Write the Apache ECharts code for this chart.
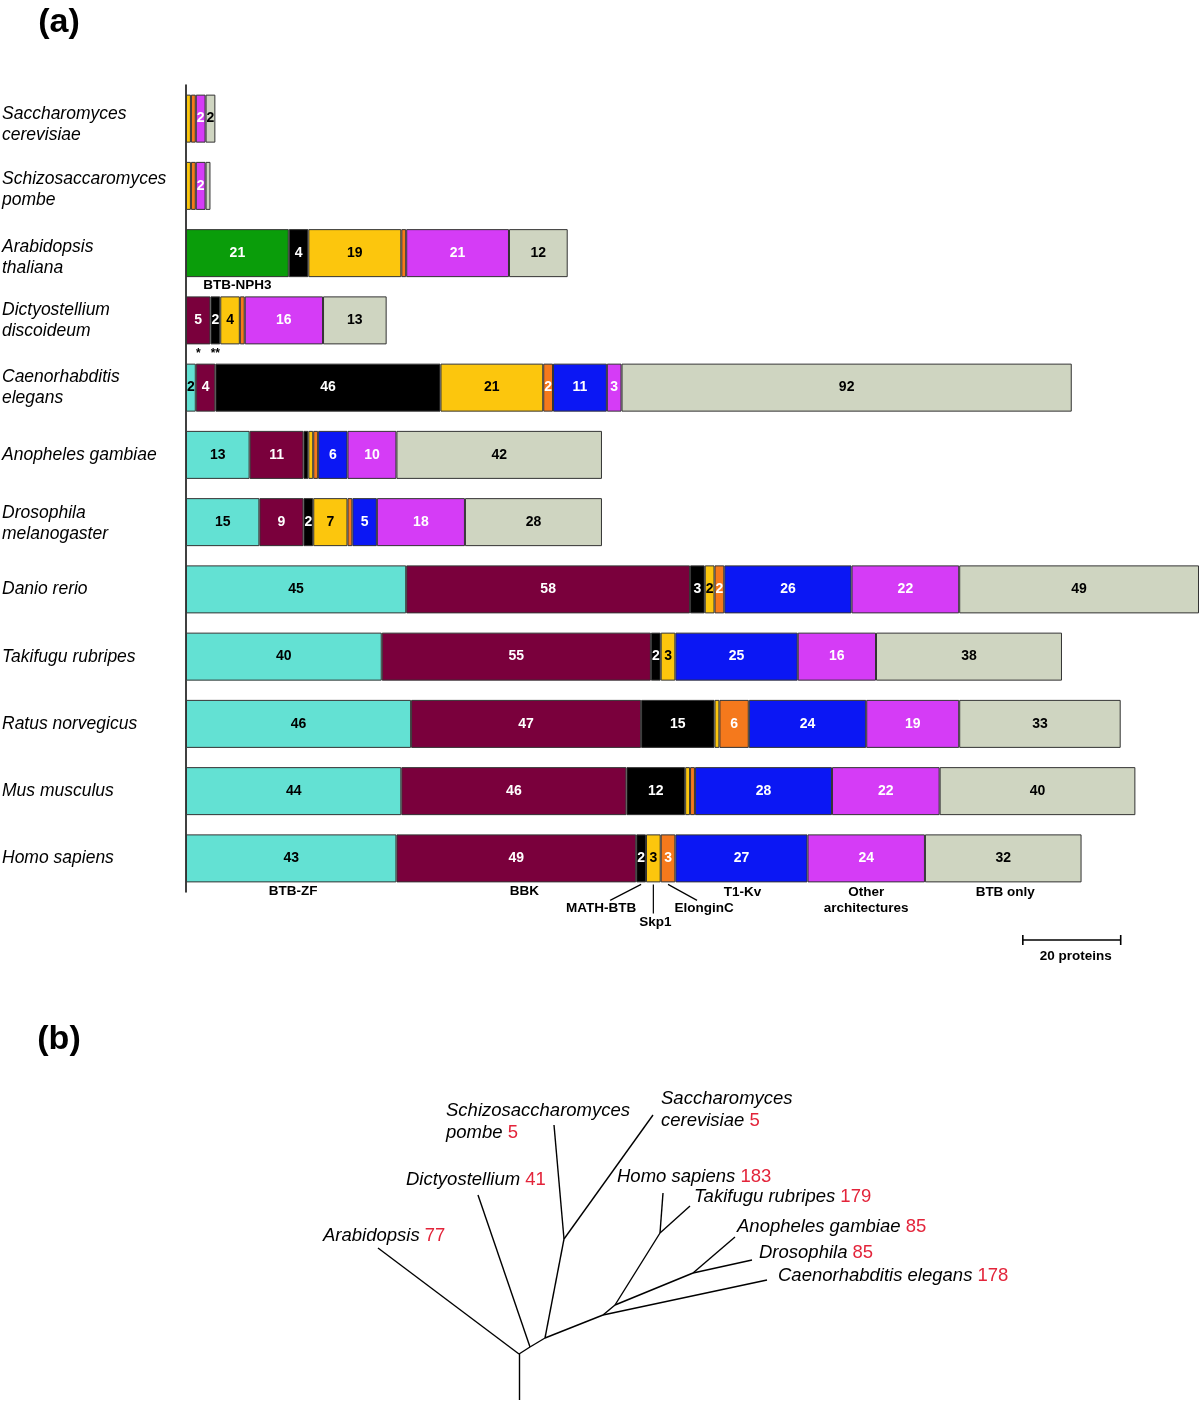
<!DOCTYPE html>
<html><head><meta charset="utf-8">
<script src="https://cdn.jsdelivr.net/npm/echarts@6/dist/echarts.min.js"></script>
<style>html,body{margin:0;padding:0;background:#fff}#c{width:1200px;height:1402px}</style>
</head><body><div id="c"></div>
<script>
// ---------- DATA: panel (a) ----------
const species = ['Saccharomyces\ncerevisiae','Schizosaccaromyces\npombe','Arabidopsis\nthaliana','Dictyostellium\ndiscoideum','Caenorhabditis\nelegans','Anopheles gambiae','Drosophila\nmelanogaster','Danio rerio','Takifugu rubripes','Ratus norvegicus','Mus musculus','Homo sapiens'];
const classNames = ['BTB-ZF','BBK','BTB-NPH3','MATH-BTB','Skp1','ElonginC','T1-Kv','Other architectures','BTB only'];
const btbZF     = [0, 0, 0, 0, 2, 13, 15, 45, 40, 46, 44, 43];
const bbk       = [0, 0, 0, 5, 4, 11,  9, 58, 55, 47, 46, 49];
const btbNPH3   = [0, 0,21, 0, 0,  0,  0,  0,  0,  0,  0,  0];
const mathBTB   = [0, 0, 4, 2,46,  1,  2,  3,  2, 15, 12,  2];
const skp1      = [1, 1,19, 4,21,  1,  7,  2,  3,  1,  1,  3];
const elonginC  = [1, 1, 1, 1, 2,  1,  1,  2,  0,  6,  1,  3];
const t1Kv      = [0, 0, 0, 0,11,  6,  5, 26, 25, 24, 28, 27];
const otherArch = [2, 2,21,16, 3, 10, 18, 22, 16, 19, 22, 24];
const btbOnly   = [2, 1,12,13,92, 42, 28, 49, 38, 33, 40, 32];
const scaleBarProteins = 20;

// ---------- DATA: panel (b) tree ----------
const treeNodeNames = ['base','root','A','B','Y','C','D','E','F','Arabidopsis','Dictyostellium','Spombe','Scerevisiae','Homo','Takifugu','Anopheles','Drosophila','Celegans'];
const treeNodeX = [0, 0, 11, 26, 45, 84, 96, 141, 174, -141, -41, 35, 134, 144, 171, 216, 233, 248];
const treeNodeY = [-46, 0, 7, 16, 115, 39, 49, 121, 81, 106, 159, 229, 239, 161, 148, 117, 94, 74];
const treeEdges = [['base','root'],['root','Arabidopsis'],['root','A'],['A','Dictyostellium'],['A','B'],['B','Y'],['Y','Spombe'],['Y','Scerevisiae'],['B','C'],['C','Celegans'],['C','D'],['D','E'],['E','Homo'],['E','Takifugu'],['D','F'],['F','Anopheles'],['F','Drosophila']];
const tipNodes  = ['Arabidopsis','Dictyostellium','Spombe','Scerevisiae','Homo','Takifugu','Anopheles','Drosophila','Celegans'];
const tipLabels = ['Arabidopsis','Dictyostellium','Schizosaccharomyces\npombe','Saccharomyces\ncerevisiae','Homo sapiens','Takifugu rubripes','Anopheles gambiae','Drosophila','Caenorhabditis elegans'];
const tipCounts = [77, 41, 5, 5, 183, 179, 85, 85, 178];

// ---------- STYLES ----------
const FONT = 'Liberation Sans, Arial, Helvetica, sans-serif';
const seriesValues = [btbZF, bbk, btbNPH3, mathBTB, skp1, elonginC, t1Kv, otherArch, btbOnly];
const colors = ['#63e1d3','#7a003c','#0a9d0a','#000000','#fcc60d','#f5791c','#0b17f4','#d53cf6','#cfd5c1'];
const labelColors = ['#000','#fff','#fff','#fff','#000','#fff','#fff','#fff','#000'];
const tipOffsets = [[-55,-12],[-72,-15],[-108,-3],[8,-5],[-46,-16],[4,-9],[2,-10],[7,-7],[11,-4]];
const catLabelShift = [6, 4, 4, 0, 0, 0, 1, 0, 0, 0, 0, 0];

const chart = echarts.init(document.getElementById('c'), null, {renderer:'canvas'});

const barSeries = seriesValues.map((vals, si) => ({
  type: 'bar', name: classNames[si], stack: 'total',
  xAxisIndex: 0, yAxisIndex: 0, barWidth: 48,
  data: vals.map(v => v === 0 ? '-' : v),
  itemStyle: {color: colors[si], borderColor: '#333', borderWidth: 1},
  label: {show: true, position: 'inside', color: labelColors[si], fontWeight: 'bold', fontSize: 14, fontFamily: FONT,
    formatter: p => (p.value >= 2 ? String(p.value) : '')},
  emphasis: {disabled: true}, silent: true
}));

const nodeIdx = n => treeNodeNames.indexOf(n);
const nodePt = n => [treeNodeX[nodeIdx(n)], treeNodeY[nodeIdx(n)]];

const treeLines = {
  type: 'lines', coordinateSystem: 'cartesian2d', xAxisIndex: 1, yAxisIndex: 1,
  data: treeEdges.map(e => ({coords: [nodePt(e[0]), nodePt(e[1])]})),
  lineStyle: {color: '#000', width: 1.4, opacity: 1, curveness: 0},
  silent: true, z: 3
};

const tipSeries = {
  type: 'scatter', xAxisIndex: 1, yAxisIndex: 1, symbolSize: 1,
  itemStyle: {color: 'rgba(0,0,0,0)', opacity: 1}, silent: true,
  emphasis: {disabled: true},
  data: tipNodes.map((n, i) => {
    const lines = tipLabels[i].split('\n');
    const last = lines.pop();
    const txt = lines.map(l => '{n|' + l + '}').concat(['{n|' + last + '} {r|' + tipCounts[i] + '}']).join('\n');
    return {
      value: nodePt(n),
      label: {show: true, position: 'inside', align: 'left', verticalAlign: 'middle', offset: tipOffsets[i],
        formatter: txt, fontFamily: FONT, fontSize: 18.5, fontStyle: 'italic', color: '#000', opacity: 1, lineHeight: 22,
        rich: {
          n: {fontFamily: FONT, fontSize: 18.5, fontStyle: 'italic', color: '#000', lineHeight: 22},
          r: {fontFamily: FONT, fontSize: 18.5, fontStyle: 'normal', color: '#e3243a', lineHeight: 22}
        }}
    };
  })
};

const gapRich = {};
[1,2,3,4,5,6].forEach(s => { gapRich['g' + s] = {fontSize: 1, lineHeight: 2 * s}; });

chart.setOption({
  animation: false,
  backgroundColor: '#fff',
  grid: [
    {left: 186, top: 85, width: 1013, height: 807, containLabel: false, outerBoundsMode: 'none'},
    {left: 319, top: 1094, width: 500, height: 308, containLabel: false, outerBoundsMode: 'none'}
  ],
  xAxis: [
    {type: 'value', gridIndex: 0, min: 0, max: 207, show: false},
    {type: 'value', gridIndex: 1, min: -200, max: 300, show: false}
  ],
  yAxis: [
    {type: 'category', gridIndex: 0, data: species, inverse: true,
      axisTick: {show: false}, splitLine: {show: false},
      axisLine: {show: true, onZero: false, lineStyle: {color: '#000', width: 1.5}},
      axisLabel: {align: 'left', margin: 184, fontFamily: FONT, fontStyle: 'italic', fontSize: 17.5, lineHeight: 21, color: '#000',
        formatter: (v, idx) => {
          const s = catLabelShift[idx] || 0;
          const body = v.split('\n').map(l => '{t|' + l + '}').join('\n');
          return s > 0 ? '{g' + s + '| }\n' + body : body;
        },
        rich: Object.assign({
          t: {fontFamily: FONT, fontStyle: 'italic', fontSize: 17.5, lineHeight: 21, color: '#000'}
        }, gapRich)}},
    {type: 'value', gridIndex: 1, min: -48, max: 260, show: false}
  ],
  series: barSeries.concat([treeLines, tipSeries])
});

// ---------- annotations positioned through the axes ----------
const px = (v, cat) => chart.convertToPixel({seriesIndex: 0}, [v, cat]);
function cumFor(ci) {
  const c = [0];
  seriesValues.forEach((vals, i) => c.push(c[i] + vals[ci]));
  return c;
}
const g = [];
const txt = (x, y, text, opt) => g.push({type: 'text', x: x, y: y, silent: true,
  style: Object.assign({text: text, fill: '#000', font: 'bold 13.5px ' + FONT, align: 'center', verticalAlign: 'middle', lineHeight: 16}, (opt || {}))});
const line = (x1, y1, x2, y2, w) => g.push({type: 'line', silent: true, shape: {x1, y1, x2, y2}, style: {stroke: '#000', lineWidth: w || 1.2}});

// Homo sapiens (last row) category names
const hi = species.length - 1;
const hc = cumFor(hi);
const segC = (c, i, row) => px((c[i] + c[i + 1]) / 2, row)[0];
const hBottom = px(0, hi)[1] + 24;
const ann = [
  {i: 0, t: 'BTB-ZF', dx: 2, dy: 9},
  {i: 1, t: 'BBK', dx: 8, dy: 9},
  {i: 3, t: 'MATH-BTB', dx: -40, dy: 26, lead: [0, 2, -31, 18]},
  {i: 4, t: 'Skp1', dx: 2, dy: 40, lead: [0, 2, 0, 31]},
  {i: 5, t: 'ElonginC', dx: 36, dy: 26, lead: [0, 2, 29, 18]},
  {i: 6, t: 'T1-Kv', dx: 1, dy: 10},
  {i: 7, t: 'Other\narchitectures', dx: 0, dy: 18},
  {i: 8, t: 'BTB only', dx: 2, dy: 10}
];
ann.forEach(a => {
  const cx = segC(hc, a.i, hi);
  txt(cx + a.dx, hBottom + a.dy, a.t);
  if (a.lead) line(cx + a.lead[0], hBottom + a.lead[1], cx + a.lead[2], hBottom + a.lead[3]);
});

// BTB-NPH3 under Arabidopsis
const ai = 2, ac = cumFor(ai);
txt(segC(ac, 2, ai), px(0, ai)[1] + 24 + 8, 'BTB-NPH3');
// asterisks under Dictyostellium
const di = 3, dc = cumFor(di);
const dBottom = px(0, di)[1] + 24;
txt(segC(dc, 1, di), dBottom + 1, '*', {verticalAlign: 'top', font: 'bold 12px ' + FONT});
txt(segC(dc, 3, di), dBottom + 1, '**', {verticalAlign: 'top', font: 'bold 12px ' + FONT});

// scale bar
const sx0 = px(171, hi)[0], sx1 = px(171 + scaleBarProteins, hi)[0];
const sy = 940;
line(sx0, sy, sx1, sy, 1.6); line(sx0, sy - 5, sx0, sy + 5, 1.6); line(sx1, sy - 5, sx1, sy + 5, 1.6);
txt((sx0 + sx1) / 2 + 4, sy + 16, scaleBarProteins + ' proteins');

// panel letters
txt(59, 23, '(a)', {font: 'bold 34px ' + FONT});
txt(59, 1040, '(b)', {font: 'bold 34px ' + FONT});

chart.setOption({graphic: {elements: g}});
</script>
</body></html>
